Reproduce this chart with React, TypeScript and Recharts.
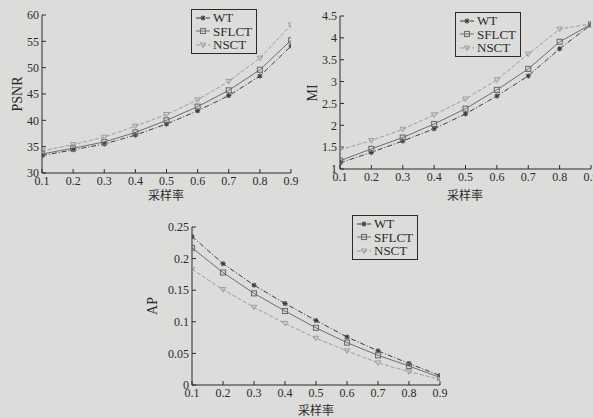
import React from 'react';
import { LineChart, Line, XAxis, YAxis, Legend } from 'recharts';

// sampling rates (x axis)
const rates = [0.1, 0.2, 0.3, 0.4, 0.5, 0.6, 0.7, 0.8, 0.9];

// PSNR
const psnrWT = [33.3, 34.4, 35.5, 37.2, 39.3, 41.8, 44.7, 48.4, 54.1];
const psnrSFLCT = [33.6, 34.7, 35.9, 37.7, 40.0, 42.6, 45.7, 49.6, 55.2];
const psnrNSCT = [34.2, 35.4, 36.8, 38.9, 41.1, 43.9, 47.4, 51.8, 58.1];

// MI
const miWT = [1.14, 1.38, 1.64, 1.92, 2.26, 2.67, 3.13, 3.75, 4.3];
const miSFLCT = [1.19, 1.46, 1.72, 2.03, 2.38, 2.81, 3.29, 3.91, 4.31];
const miNSCT = [1.44, 1.65, 1.91, 2.24, 2.6, 3.04, 3.63, 4.2, 4.32];

// AP
const apWT = [0.235, 0.192, 0.158, 0.129, 0.102, 0.076, 0.054, 0.034, 0.015];
const apSFLCT = [0.217, 0.178, 0.145, 0.117, 0.0905, 0.067, 0.047, 0.03, 0.012];
const apNSCT = [0.183, 0.151, 0.123, 0.0975, 0.074, 0.054, 0.035, 0.021, 0.009];

const psnrTicks = [30, 35, 40, 45, 50, 55, 60];
const miTicks = [1, 1.5, 2, 2.5, 3, 3.5, 4, 4.5];
const apTicks = [0, 0.05, 0.1, 0.15, 0.2, 0.25];

const BG = '#dcdcdb';
const INK = '#2b2b2b';
const SERIF = '"Liberation Serif", "DejaVu Serif", serif';
const CJK = '"Noto Sans CJK SC", sans-serif';

const SERIES = [
  { key: 'WT', color: '#3c3c3c', dash: '5 2 1 2', marker: 'star' },
  { key: 'SFLCT', color: '#6e6e6e', dash: undefined, marker: 'square' },
  { key: 'NSCT', color: '#9c9c9c', dash: '4 2', marker: 'tri' }
];

function buildRows(wt: number[], sf: number[], ns: number[]) {
  return rates.map((r, i) => ({ x: r, WT: wt[i], SFLCT: sf[i], NSCT: ns[i] }));
}

const psnrData = buildRows(psnrWT, psnrSFLCT, psnrNSCT);
const miData = buildRows(miWT, miSFLCT, miNSCT);
const apData = buildRows(apWT, apSFLCT, apNSCT);

function MarkerShape({ cx, cy, kind, color }: any) {
  if (cx == null || cy == null) return null;
  if (kind === 'star') {
    return (
      <g stroke={color} strokeWidth={1.1}>
        <line x1={cx - 2.5} y1={cy} x2={cx + 2.5} y2={cy} />
        <line x1={cx} y1={cy - 2.5} x2={cx} y2={cy + 2.5} />
        <line x1={cx - 1.8} y1={cy - 1.8} x2={cx + 1.8} y2={cy + 1.8} />
        <line x1={cx - 1.8} y1={cy + 1.8} x2={cx + 1.8} y2={cy - 1.8} />
      </g>
    );
  }
  if (kind === 'square') {
    return <rect x={cx - 2.5} y={cy - 2.5} width={5} height={5} fill="none" stroke={color} strokeWidth={1.1} />;
  }
  return (
    <polygon
      points={`${cx - 2.8},${cy - 2} ${cx + 2.8},${cy - 2} ${cx},${cy + 2.6}`}
      fill="none"
      stroke={color}
      strokeWidth={1}
    />
  );
}

function LegendBox() {
  return (
    <div
      style={{
        border: `1px solid ${INK}`,
        background: BG,
        padding: '1px 4px 1px 3px',
        fontFamily: SERIF,
        fontSize: 13,
        color: INK,
        lineHeight: '13.5px'
      }}
    >
      {SERIES.map((s) => (
        <div key={s.key} style={{ display: 'flex', alignItems: 'center' }}>
          <svg width={16} height={12} style={{ marginRight: 2 }}>
            <line x1={1} y1={6} x2={15} y2={6} stroke={s.color} strokeWidth={1} strokeDasharray={s.dash} />
            <MarkerShape cx={8} cy={6} kind={s.marker} color={s.color} />
          </svg>
          <span>{s.key}</span>
        </div>
      ))}
    </div>
  );
}

interface PanelProps {
  data: any[];
  left: number;
  top: number;
  width: number;
  height: number;
  margin: { top: number; right: number; left: number; bottom: number };
  yWidth: number;
  xHeight: number;
  domain: [number, number];
  ticks: number[];
  legendPos: { left: number; top: number };
}

function Panel({ data, left, top, width, height, margin, yWidth, xHeight, domain, ticks, legendPos }: PanelProps) {
  const tickStyle = { fill: INK, fontFamily: SERIF, fontSize: 12 };
  return (
    <div style={{ position: 'absolute', left, top }}>
      <LineChart width={width} height={height} data={data} margin={margin}>
        <XAxis
          dataKey="x"
          type="number"
          domain={[0.1, 0.9]}
          ticks={rates}
          tickFormatter={(v: number) => String(v)}
          height={xHeight}
          stroke={INK}
          tick={tickStyle}
          tickSize={-4}
          tickMargin={7}
          interval={0}
          allowDataOverflow
        />
        <YAxis
          type="number"
          domain={domain}
          ticks={ticks}
          width={yWidth}
          stroke={INK}
          tick={tickStyle}
          tickSize={-4}
          tickMargin={7}
          interval={0}
          allowDataOverflow
        />
        <Legend
          layout="vertical"
          align="center"
          verticalAlign="middle"
          wrapperStyle={{ left: legendPos.left, top: legendPos.top, width: 'auto' }}
          content={() => <LegendBox />}
        />
        {SERIES.map((s) => (
          <Line
            key={s.key}
            dataKey={s.key}
            stroke={s.color}
            strokeWidth={1}
            strokeDasharray={s.dash}
            dot={(p: any) => <MarkerShape key={`${s.key}-${p.index}`} cx={p.cx} cy={p.cy} kind={s.marker} color={s.color} />}
            activeDot={false}
            isAnimationActive={false}
          />
        ))}
      </LineChart>
    </div>
  );
}

const textStyle: React.CSSProperties = { position: 'absolute', color: INK, whiteSpace: 'nowrap' };

export default function App() {
  return (
    <div
      style={{
        position: 'fixed',
        left: 0,
        top: 0,
        width: 593,
        height: 418,
        background: BG,
        overflow: 'hidden'
      }}
    >
      <Panel
        data={psnrData}
        left={0}
        top={0}
        width={300}
        height={205}
        margin={{ top: 15, right: 9, left: 0, bottom: 0 }}
        yWidth={42}
        xHeight={32}
        domain={[30, 60]}
        ticks={psnrTicks}
        legendPos={{ left: 191, top: 9 }}
      />
      <Panel
        data={miData}
        left={296}
        top={0}
        width={297}
        height={205}
        margin={{ top: 16, right: 2, left: 0, bottom: 0 }}
        yWidth={44}
        xHeight={36}
        domain={[1, 4.5]}
        ticks={miTicks}
        legendPos={{ left: 159, top: 12 }}
      />
      <Panel
        data={apData}
        left={140}
        top={205}
        width={310}
        height={213}
        margin={{ top: 22, right: 10, left: 0, bottom: 0 }}
        yWidth={52}
        xHeight={33}
        domain={[0, 0.25]}
        ticks={apTicks}
        legendPos={{ left: 212, top: 10 }}
      />

      {/* axis titles */}
      <div style={{ ...textStyle, left: 18, top: 94, fontFamily: SERIF, fontSize: 14, transform: 'translate(-50%, -50%) rotate(-90deg)' }}>PSNR</div>
      <div style={{ ...textStyle, left: 313, top: 93, fontFamily: SERIF, fontSize: 14, transform: 'translate(-50%, -50%) rotate(-90deg)' }}>MI</div>
      <div style={{ ...textStyle, left: 153, top: 306, fontFamily: SERIF, fontSize: 14, transform: 'translate(-50%, -50%) rotate(-90deg)' }}>AP</div>
      <div style={{ ...textStyle, left: 166, top: 194, fontFamily: CJK, fontSize: 12, transform: 'translate(-50%, -50%)' }}>采样率</div>
      <div style={{ ...textStyle, left: 465, top: 194, fontFamily: CJK, fontSize: 12, transform: 'translate(-50%, -50%)' }}>采样率</div>
      <div style={{ ...textStyle, left: 316, top: 409, fontFamily: CJK, fontSize: 12, transform: 'translate(-50%, -50%)' }}>采样率</div>
    </div>
  );
}
